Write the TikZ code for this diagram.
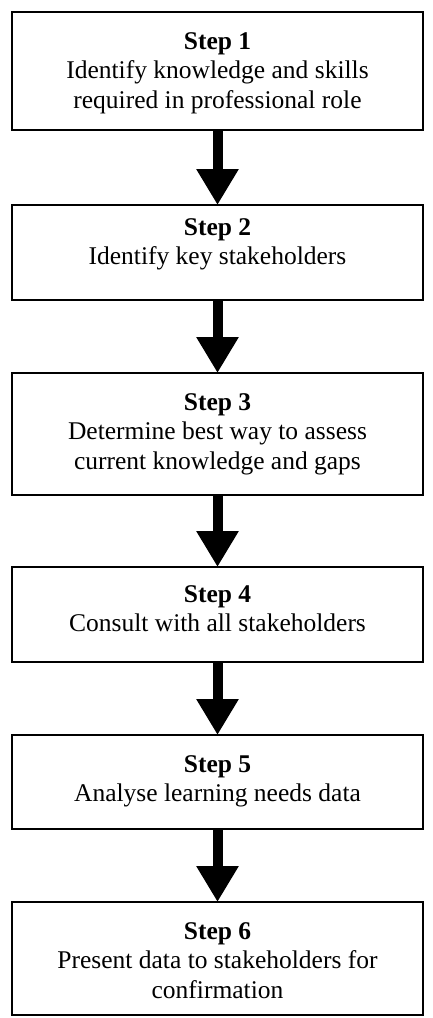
\documentclass[tikz,border=0pt]{standalone}
\usepackage{fontspec}
\setmainfont{Liberation Serif}
\usetikzlibrary{arrows.meta}
\begin{document}
\begin{tikzpicture}[x=1pt,y=1pt,
  stepbox/.style={draw=black, line width=2pt, minimum width=411pt, inner sep=0pt, outer sep=0pt},
  steptext/.style={anchor=north, align=center, inner sep=0pt, font=\fontsize{25.5}{29.5}\selectfont},
  flow/.style={line width=10pt, -{Triangle[width=40pt,length=36pt]}}]
% page frame
\fill[white] (0,0) rectangle (433,-1018);
\useasboundingbox (0,0) rectangle (433,-1018);

% boxes
\node[stepbox, minimum height=118pt] (s1) at (217.5,-71) {};
\node[stepbox, minimum height=95pt]  (s2) at (217.5,-252.5) {};
\node[stepbox, minimum height=122pt] (s3) at (217.5,-434) {};
\node[stepbox, minimum height=95pt]  (s4) at (217.5,-614.5) {};
\node[stepbox, minimum height=94pt]  (s5) at (217.5,-782) {};
\node[stepbox, minimum height=113pt] (s6) at (217.5,-958.5) {};

% box texts
\node[steptext] (t1) at (217.5,-32)  {\textbf{Step 1}\\Identify knowledge and skills\\required in professional role};
\node[steptext] (t2) at (217.5,-218) {\textbf{Step 2}\\Identify key stakeholders};
\node[steptext] (t3) at (217.5,-393) {\textbf{Step 3}\\Determine best way to assess\\current knowledge and gaps};
\node[steptext] (t4) at (217.5,-585) {\textbf{Step 4}\\Consult with all stakeholders};
\node[steptext] (t5) at (217.5,-755) {\textbf{Step 5}\\Analyse learning needs data};
\node[steptext] (t6) at (217.5,-922) {\textbf{Step 6}\\Present data to stakeholders for\\confirmation};

% arrows
\draw[flow] (s1.south) -- (s2.north);
\draw[flow] (s2.south) -- (s3.north);
\draw[flow] (s3.south) -- (s4.north);
\draw[flow] (s4.south) -- (s5.north);
\draw[flow] (s5.south) -- (s6.north);
\end{tikzpicture}
\end{document}
